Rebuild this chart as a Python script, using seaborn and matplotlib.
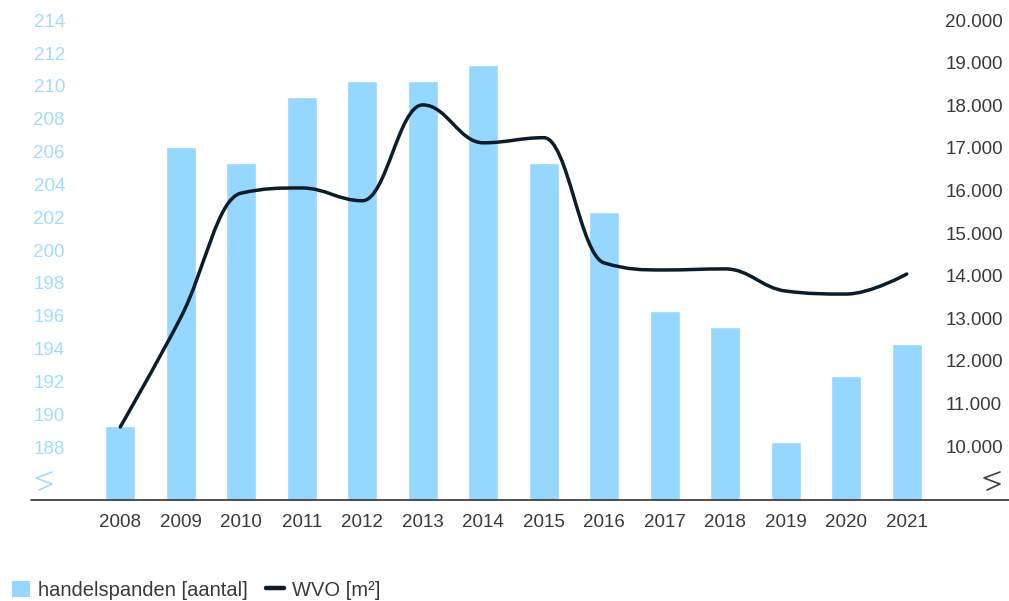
import matplotlib
matplotlib.use("Agg")
import matplotlib.pyplot as plt
import matplotlib.transforms as mtransforms
from matplotlib.path import Path
from matplotlib.patches import PathPatch, Patch
from matplotlib.lines import Line2D
import seaborn as sns
import pandas as pd

# data
years = ["2008", "2009", "2010", "2011", "2012", "2013", "2014",
         "2015", "2016", "2017", "2018", "2019", "2020", "2021"]
handelspanden = [189, 206, 205, 209, 210, 210, 211, 205, 202, 196, 195, 188, 192, 194]
wvo = [10330, 12900, 15820, 15940, 15640, 17890, 17000, 17120, 14180, 14015,
       14040, 13520, 13450, 13920]

left_ticks = list(range(188, 215, 2))
right_ticks = list(range(10000, 20001, 1000))

BAR_COLOR = "#96d7ff"
LEFT_LABEL_COLOR = "#a3dbff"
LINE_COLOR = "#0b1c2a"
TEXT_COLOR = "#3a3a3a"

sns.set_theme(style="white")
plt.rcParams["font.family"] = ["Liberation Sans", "DejaVu Sans"]


def spline_path(xs, ys, smoothing=1.5):
    """Highcharts-like spline through the points as cubic Bezier segments."""
    denom = smoothing + 1
    n = len(xs)
    left = [None] * n
    right = [None] * n
    for i in range(1, n - 1):
        px, py = xs[i], ys[i]
        lx, ly = xs[i - 1], ys[i - 1]
        nx, ny = xs[i + 1], ys[i + 1]
        lcx = (smoothing * px + lx) / denom
        lcy = (smoothing * py + ly) / denom
        rcx = (smoothing * px + nx) / denom
        rcy = (smoothing * py + ny) / denom
        if rcx != lcx:
            corr = ((rcy - lcy) * (rcx - px)) / (rcx - lcx) + py - rcy
            lcy += corr
            rcy += corr
        if lcy > ly and lcy > py:
            lcy = max(ly, py)
            rcy = 2 * py - lcy
        elif lcy < ly and lcy < py:
            lcy = min(ly, py)
            rcy = 2 * py - lcy
        if rcy > ny and rcy > py:
            rcy = max(ny, py)
            lcy = 2 * py - rcy
        elif rcy < ny and rcy < py:
            rcy = min(ny, py)
            lcy = 2 * py - rcy
        left[i] = (lcx, lcy)
        right[i] = (rcx, rcy)
    verts = [(xs[0], ys[0])]
    codes = [Path.MOVETO]
    for i in range(1, n):
        c1 = right[i - 1] or (xs[i - 1], ys[i - 1])
        c2 = left[i] or (xs[i], ys[i])
        verts += [c1, c2, (xs[i], ys[i])]
        codes += [Path.CURVE4] * 3
    return Path(verts, codes)


df = pd.DataFrame({"jaar": years, "handelspanden": handelspanden, "wvo": wvo})

fig = plt.figure(figsize=(10.09, 6.01), dpi=100)
ax = fig.add_axes([90 / 1009, 101 / 601, 847 / 1009, 495 / 601])

sns.barplot(data=df, x="jaar", y="handelspanden", color=BAR_COLOR, width=0.5,
            saturation=1, ax=ax, zorder=2)
ax.set_ylim(184.47, 214.63)
ax.set_xlim(-0.5, len(years) - 0.5)
ax.set_yticks(left_ticks)
ax.set_xlabel("")
ax.set_ylabel("")
ax.tick_params(axis="y", length=0, pad=18, labelsize=13.5, labelcolor=LEFT_LABEL_COLOR)
ax.tick_params(axis="x", length=0, pad=10, labelsize=13.5, labelcolor=TEXT_COLOR)

ax2 = ax.twinx()
ax2.set_ylim(8615, 20235)
ax2.set_yticks(right_ticks)
ax2.set_yticklabels([f"{v:,}".replace(",", ".") for v in right_ticks])
ax2.tick_params(axis="y", length=0, pad=6, labelsize=13.5, labelcolor=TEXT_COLOR)
ax2.add_patch(PathPatch(spline_path(list(range(len(years))), wvo),
                        facecolor="none", edgecolor=LINE_COLOR, lw=2.5,
                        capstyle="round", joinstyle="round", zorder=3))

for a in (ax, ax2):
    for s in a.spines.values():
        s.set_visible(False)
    a.grid(False)

# labels sit a few pixels below their tick value, as in the reference
shift = mtransforms.ScaledTranslation(0, -5 / 100, fig.dpi_scale_trans)
for lab in ax.get_yticklabels() + ax2.get_yticklabels():
    lab.set_transform(lab.get_transform() + shift)

# x-axis baseline across the whole width
fig.add_artist(Line2D([31 / 1009, 1.0], [101 / 601, 101 / 601], color="#404040",
                      lw=1.3, transform=fig.transFigure))

# axis break marks
zig_x = [0.0, -16, 0.0, -13]
zig_y = [0.0, -6, -12, -18]
for x0, col in ((52, LEFT_LABEL_COLOR), (1000, "#404040")):
    fig.add_artist(Line2D([(x0 + dx) / 1009 for dx in zig_x],
                          [(601 - 472 + dy) / 601 for dy in zig_y],
                          color=col, lw=1.2, transform=fig.transFigure))

handles = [Patch(facecolor=BAR_COLOR, edgecolor="none"),
           Line2D([0], [0], color=LINE_COLOR, lw=3.2)]
fig.legend(handles, ["handelspanden [aantal]", "WVO [m²]"], loc="center left",
           bbox_to_anchor=(0.004, 0.018), ncol=2, frameon=False, fontsize=14.5,
           labelcolor=TEXT_COLOR, handlelength=0.9, handleheight=0.9,
           handletextpad=0.4, columnspacing=0.9, borderaxespad=0)

fig.savefig("out.png", dpi=100)
